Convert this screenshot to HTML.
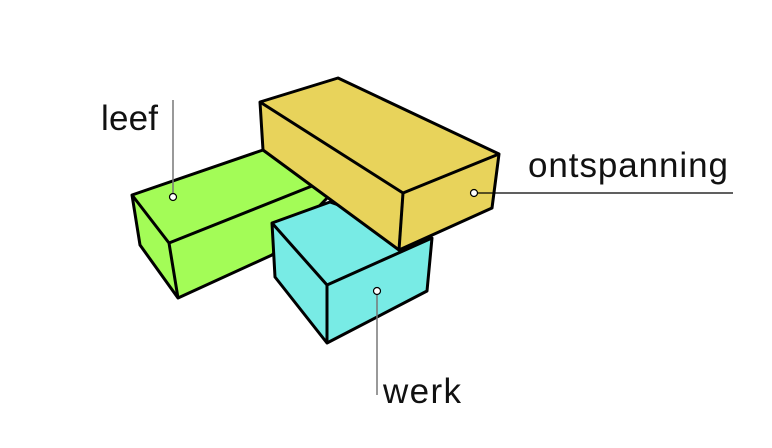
<!DOCTYPE html>
<html><head><style>
html,body{margin:0;padding:0;background:#fff;}
svg{display:block;}
text{font-family:"Liberation Sans",sans-serif;font-size:35px;fill:#111;}
</style></head><body>
<svg width="772" height="448" viewBox="0 0 772 448" xmlns="http://www.w3.org/2000/svg">
<g stroke="#000" stroke-width="3" stroke-linejoin="round">
<polygon points="132,195 263,150 330,195 272,255 178,298 140,245" fill="#a3fc57"/>
<polyline points="132,195 169,243 178,298" fill="none"/>
<polyline points="169,243 312,186" fill="none"/>
<polygon points="272,223 330,202 432,238 427,291 327,343 275,277" fill="#78ebe5"/>
<polyline points="272,223 327,285 432,238" fill="none"/>
<line x1="327" y1="285" x2="327" y2="343"/>
<polygon points="260,102 338,78 499,154 492,208 399,250 263,150" fill="#e8d35b"/>
<polyline points="260,102 403,193 499,154" fill="none"/>
<line x1="403" y1="193" x2="399" y2="250"/>
</g>
<line x1="173" y1="100" x2="173" y2="197" stroke="#777" stroke-width="1.5"/>
<line x1="377" y1="291" x2="377" y2="395" stroke="#777" stroke-width="1.5"/>
<line x1="474" y1="193" x2="733" y2="193" stroke="#000" stroke-width="1.2"/>
<g fill="#fff" stroke="#000" stroke-width="1.2">
<circle cx="173" cy="197" r="3.5"/>
<circle cx="474" cy="193" r="3.5"/>
<circle cx="377" cy="291" r="3.5"/>
</g>
<text x="101" y="130" textLength="57">leef</text>
<text x="528" y="177" textLength="200">ontspanning</text>
<text x="383" y="403" textLength="78">werk</text>
</svg>
</body></html>
